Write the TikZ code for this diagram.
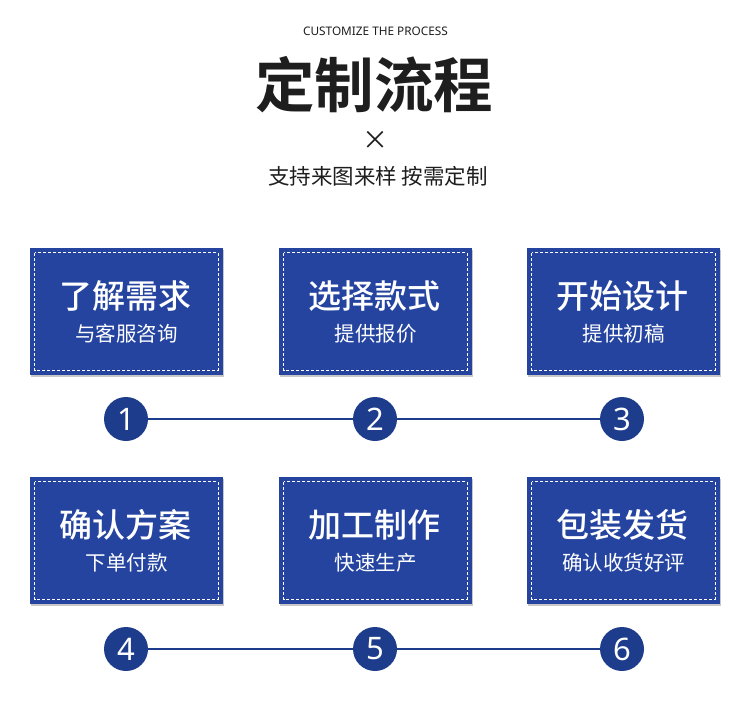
\documentclass[tikz,border=0pt]{standalone}
\usepackage{fontspec}
\setmainfont{Noto Sans}
\newfontfamily\cjk{Noto Sans CJK SC}
\newfontfamily\cjkb{Noto Sans CJK SC Bold}
\newfontfamily\cjkm{Noto Sans CJK SC Medium}
\definecolor{boxblue}{RGB}{36,68,160}
\definecolor{circblue}{RGB}{30,60,140}
\definecolor{titlegray}{RGB}{30,30,30}
\tikzset{
  card/.style={fill=boxblue, minimum width=193pt, minimum height=127pt, inner sep=0pt},
  shad/.style={fill=black!22, minimum width=193pt, minimum height=127pt, inner sep=0pt},
  stepcirc/.style={circle, fill=circblue, minimum size=44pt, inner sep=0pt, text=white, font=\fontsize{31}{31}\selectfont},
  link/.style={circblue, line width=2.2pt},
  ctitle/.style={text=white, font=\cjkm\fontsize{33}{33}\selectfont},
  csub/.style={text=white, font=\cjk\fontsize{20.5}{20.5}\selectfont},
}
\begin{document}
\begin{tikzpicture}[x=1pt,y=-1pt]
\useasboundingbox[fill=white] (0,0) rectangle (750,707);
\node[text=titlegray, font=\fontsize{11.8}{11.8}\selectfont] (eng) at (375.5,31) {CUSTOMIZE THE PROCESS};
\node[text=titlegray, font=\cjkb\fontsize{59.5}{59.5}\selectfont] (title) at (374,85) {定制流程};
\node[text=titlegray, font=\cjk\fontsize{26}{26}\selectfont] (times) at (375,140) {×};
\node[text=titlegray, font=\cjk\fontsize{21.5}{21.5}\selectfont] (sub) at (378,176) {支持来图来样 按需定制};
% cards
\foreach \nm/\cx/\cy/\ta/\tb in {c1/126.5/311.5/了解需求/与客服咨询, c2/375.5/311.5/选择款式/提供报价, c3/623.5/311.5/开始设计/提供初稿, c4/126.5/540.5/确认方案/下单付款, c5/375.5/540.5/加工制作/快速生产, c6/623.5/540.5/包装发货/确认收货好评}{
  \node[shad] at (\cx+1,\cy+2) {};
  \node[card] (\nm) at (\cx,\cy) {};
  \draw[white, dashed, dash pattern=on 3pt off 2pt, line width=0.7pt] ([shift={(5pt,-5pt)}]\nm.north west) rectangle ([shift={(-5pt,5pt)}]\nm.south east);
  \node[ctitle] at (\cx-1,\cy-15.5) {\ta};
  \node[csub] at (\cx,\cy+22.5) {\tb};
}
% circles
\node[stepcirc] (s1) at (126,419) {1};
\node[stepcirc] (s2) at (375,419) {2};
\node[stepcirc] (s3) at (622,419) {3};
\node[stepcirc] (s4) at (126,649) {4};
\node[stepcirc] (s5) at (375,649) {5};
\node[stepcirc] (s6) at (622,649) {6};
\draw[link] (s1) -- (s2);
\draw[link] (s2) -- (s3);
\draw[link] (s4) -- (s5);
\draw[link] (s5) -- (s6);
\end{tikzpicture}
\end{document}
